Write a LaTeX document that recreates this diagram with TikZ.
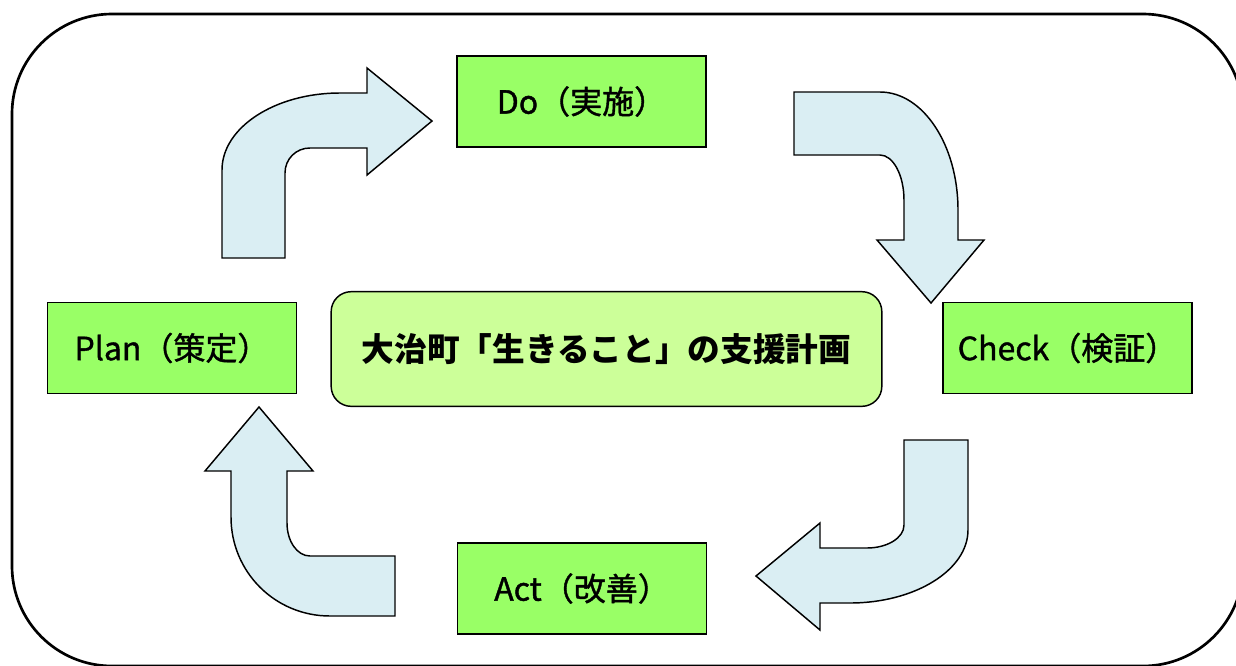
\documentclass[tikz,border=0pt]{standalone}
\usepackage{fontspec}
\newfontfamily\cjk{Noto Sans CJK JP}
\newfontfamily\cjkmed[FakeBold=1.2]{Noto Sans CJK JP}
\definecolor{phase}{HTML}{99FF66}
\definecolor{core}{HTML}{CCFF99}
\definecolor{flow}{HTML}{DAEEF3}
\tikzset{
  phasebox/.style={draw=black, line width=1.1pt, fill=phase, minimum width=186.75pt, minimum height=68pt, inner sep=0pt, font=\cjkmed\fontsize{24pt}{27pt}\selectfont},
  corebox/.style={draw=black, line width=1.1pt, fill=core, rounded corners=15pt, minimum width=413pt, minimum height=86pt, inner sep=0pt, font=\cjk\bfseries\fontsize{24.5pt}{28pt}\selectfont},
  flowarrow/.style={draw=black, line width=1.1pt, fill=flow, line join=miter},
  frame/.style={draw=black, line width=2pt, rounded corners=75pt}
}
\begin{document}
\begin{tikzpicture}[x=0.75pt, y=-0.75pt]
\useasboundingbox (0,0) rectangle (1236,665);
\clip (0,0) rectangle (1236,665);
\fill[white] (0,0) rectangle (1236,665);
\draw[frame] (12,14) rectangle (1243,666);

% arrow Plan -> Do
\draw[flowarrow] (222,258) -- (222,170) .. controls (222,127.5) and (275,93) .. (340,93)
  -- (367,93) -- (367,68) -- (432,121) -- (367,175) -- (367,148) -- (310,148)
  .. controls (296,148) and (285,159) .. (285,173) -- (285,258) -- cycle;
% arrow Do -> Check
\draw[flowarrow] (794,92) -- (880,92) .. controls (923,92) and (958,145) .. (958,210)
  -- (958,240) -- (984,240) -- (931,303) -- (877,240) -- (904,240) -- (904,200)
  .. controls (904,175) and (893,155) .. (880,155) -- (794,155) -- cycle;
% arrow Check -> Act
\draw[flowarrow] (968,440) -- (968,530) .. controls (968,570) and (915,603) .. (850,603)
  -- (820,603) -- (820,630) -- (756,576) -- (820,523) -- (820,548) -- (867,548)
  .. controls (887,548) and (904,538) .. (904,525) -- (904,440) -- cycle;
% arrow Act -> Plan
\draw[flowarrow] (395,616) -- (330,616) .. controls (275,616) and (231,572) .. (231,517)
  -- (231,471) -- (205,471) -- (259,407) -- (313,471) -- (287,471) -- (287,523)
  .. controls (287,541) and (297,556) .. (310,556) -- (395,556) -- cycle;

\node[phasebox] (do) at (581.5,101.5) {Do（実施）};
\node[phasebox] (plan) at (172,348) {Plan（策定）};
\node[phasebox] (check) at (1067.5,348) {Check（検証）};
\node[phasebox] (act) at (582,588.5) {Act（改善）};
\node[corebox] (core) at (606.5,349) {大治町「生きること」の支援計画};
\end{tikzpicture}
\end{document}
